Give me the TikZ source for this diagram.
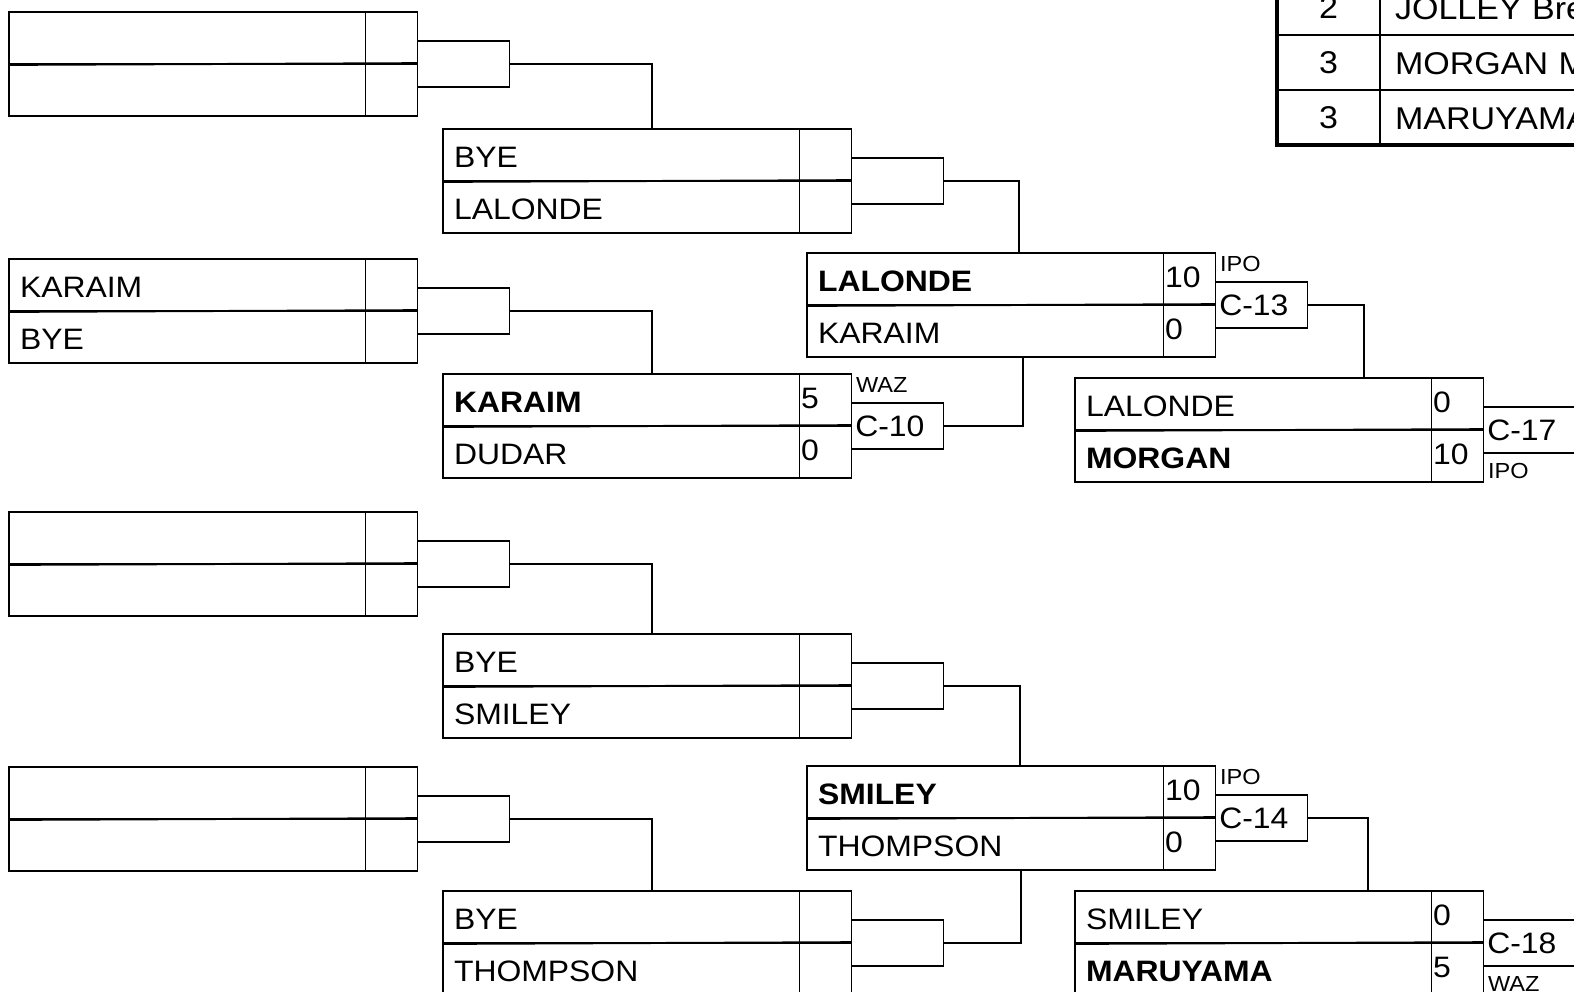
\documentclass[tikz,border=0pt]{standalone}
\usepackage{fontspec}
\setmainfont{Liberation Sans}[FakeStretch=1.08]

\begin{document}
\begin{tikzpicture}[
  x=0.01cm, y=-0.01cm, line width=0.4pt,
  namecell/.style={draw, anchor=north west, outer sep=0pt, inner xsep=0.11cm, inner ysep=0pt,
                   text width=3.34cm, minimum height=0.52cm, text height=7pt, text depth=0pt,
                   align=left, font=\fontsize{8.4}{10}\selectfont},
  scorecell/.style={draw, anchor=north west, outer sep=0pt, inner xsep=0.02cm, inner ysep=0pt,
                    text width=0.48cm, minimum height=0.52cm, text height=6pt, text depth=1.3pt,
                    align=left, font=\fontsize{8.4}{10}\selectfont},
  cbox/.style={draw, anchor=west, outer sep=0pt, inner xsep=0.04cm, inner ysep=0pt,
               text width=0.84cm, minimum height=0.46cm, text height=6pt, text depth=0pt,
               align=left, font=\fontsize{8.4}{10}\selectfont},
  tag/.style={inner sep=0.5pt, outer sep=0pt, font=\fontsize{6.2}{7}\selectfont},
  wire/.style={line width=0.4pt},
  split/.style={line width=0.55pt},
  tabnum/.style={draw, line width=0.6pt, anchor=north west, outer sep=0pt, inner sep=0pt,
                 minimum width=1.03cm, minimum height=0.55cm,
                 font=\fontsize{8.95}{10}\selectfont},
  tabname/.style={draw, line width=0.6pt, anchor=north west, outer sep=0pt, inner xsep=0.15cm,
                  inner ysep=0pt, text width=2.5cm, minimum height=0.55cm, text height=6.8pt,
                  text depth=0pt, align=left, font=\fontsize{8.95}{10}\selectfont},
  frame/.style={line width=1pt},
]
\useasboundingbox (0,0) rectangle (1574,991);
\fill[white] (0,0) rectangle (1574,991);
\clip (0,0) rectangle (1574,991);

% Bout: two name rows, two score cells, match tag box on the right.
\newcommand{\bracketbox}[8]{%
  \node[namecell] (#1n1) at (#2,#3) {#4};
  \node[namecell] (#1n2) at (#1n1.south west) {#5};
  \node[scorecell] (#1s1) at (#1n1.north east) {#6};
  \node[scorecell] (#1s2) at (#1n2.north east) {#7};
  \draw[split] ([yshift=-0.25pt]#1n1.south west) -- ([yshift=0.25pt]#1s1.south east);
  \node[cbox] (#1c) at (#1s1.south east) {#8};
}

% ---------------- first column ----------------
\bracketbox{A}{9}{12}{}{}{}{}{}
\bracketbox{C}{9}{259}{KARAIM}{BYE}{}{}{}
\bracketbox{E}{9}{512}{}{}{}{}{}
\bracketbox{G}{9}{767}{}{}{}{}{}

% ---------------- second column ----------------
\bracketbox{B}{443}{129}{BYE}{LALONDE}{}{}{}
\bracketbox{D}{443}{374}{\textbf{KARAIM}}{DUDAR}{5}{0}{C-10}
\bracketbox{F}{443}{634}{BYE}{SMILEY}{}{}{}
\bracketbox{H}{443}{891}{BYE}{THOMPSON}{}{}{}
\node[tag, anchor=south west] (tD) at ([xshift=0.03cm, yshift=2.5pt]Dc.north west) {WAZ};

% ---------------- third column ----------------
\bracketbox{I}{807}{253}{\textbf{LALONDE}}{KARAIM}{10}{0}{C-13}
\bracketbox{J}{807}{766}{\textbf{SMILEY}}{THOMPSON}{10}{0}{C-14}
\node[tag, anchor=south west] (tI) at ([xshift=0.03cm, yshift=2.5pt]Ic.north west) {IPO};
\node[tag, anchor=south west] (tJ) at ([xshift=0.03cm, yshift=2.5pt]Jc.north west) {IPO};

% ---------------- fourth column ----------------
\bracketbox{K}{1075}{378}{LALONDE}{\textbf{MORGAN}}{0}{10}{C-17}
\bracketbox{L}{1075}{891}{SMILEY}{\textbf{MARUYAMA}}{0}{5}{C-18}
\node[tag, anchor=north west] (tK) at ([xshift=0.03cm, yshift=-2.5pt]Kc.south west) {IPO};
\node[tag, anchor=north west] (tL) at ([xshift=0.03cm, yshift=-2.5pt]Lc.south west) {WAZ};

% ---------------- advancing lines ----------------
\coordinate (jA) at (652,0 |- Bn1.north);
\coordinate (jC) at (652,0 |- Dn1.north);
\coordinate (jE) at (652,0 |- Fn1.north);
\coordinate (jG) at (652,0 |- Hn1.north);
\coordinate (jB) at (1019,0 |- In1.north);
\coordinate (jD) at (1023,0 |- In2.south);
\coordinate (jF) at (1020,0 |- Jn1.north);
\coordinate (jH) at (1021,0 |- Jn2.south);
\coordinate (jI) at (1364,0 |- Kn1.north);
\coordinate (jJ) at (1368,0 |- Ln1.north);
\foreach \s/\e in {A/jA, C/jC, E/jE, G/jG, B/jB, D/jD, F/jF, H/jH, I/jI, J/jJ}
  \draw[wire] (\s c.east) -| (\e);

% ---------------- standings ----------------
\node[tabnum] (r1) at (1277,-20) {2};
\node[tabname] (q1) at (r1.north east) {JOLLEY Bre};
\node[tabnum] (r2) at (r1.south west) {3};
\node[tabname] (q2) at (r2.north east) {MORGAN M};
\node[tabnum] (r3) at (r2.south west) {3};
\node[tabname] (q3) at (r3.north east) {MARUYAMA};
\draw[frame] (r1.north west) -- (r3.south west) -- (q3.south east);
\end{tikzpicture}
\end{document}
